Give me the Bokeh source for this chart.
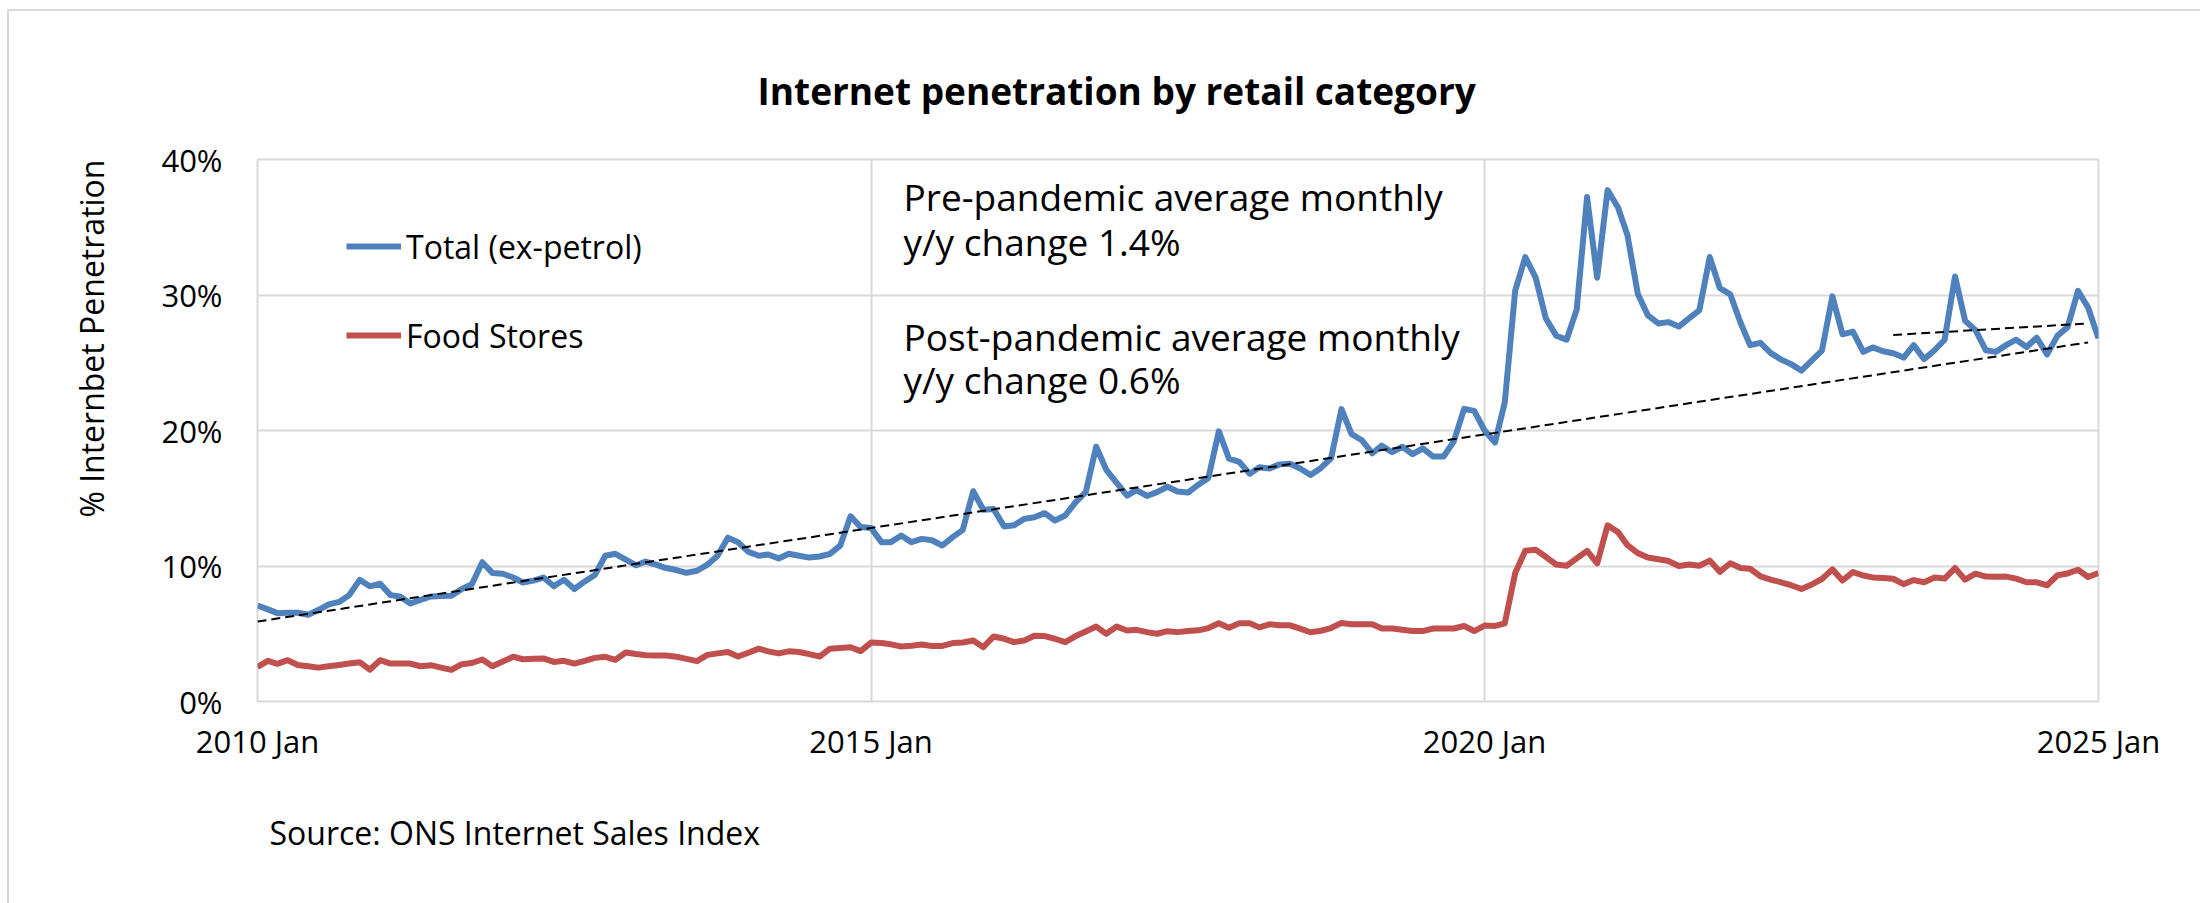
import pandas as pd
from bokeh.plotting import figure
from bokeh.models import (Range1d, FixedTicker, DatetimeTickFormatter, PrintfTickFormatter,
                          Label, Legend, LegendItem, Title)
from bokeh.embed import file_html
from bokeh.resources import INLINE

# Monthly series, 2010 Jan .. 2025 Jan (percent of retail sales made online)
months = pd.date_range("2010-01-01", "2025-01-01", freq="MS")

total_ex_petrol = [
    7.08, 6.80, 6.52, 6.55, 6.55, 6.40, 6.75, 7.17, 7.35, 7.85, 8.98, 8.50,
    8.69, 7.85, 7.75, 7.23, 7.50, 7.75, 7.78, 7.80, 8.30, 8.65, 10.28, 9.49,
    9.43, 9.15, 8.78, 8.92, 9.15, 8.50, 8.98, 8.30, 8.86, 9.34, 10.76, 10.90,
    10.47, 10.05, 10.33, 10.10, 9.85, 9.70, 9.50, 9.65, 10.10, 10.76, 12.09, 11.75,
    11.04, 10.76, 10.85, 10.56, 10.90, 10.76, 10.62, 10.70, 10.90, 11.50, 13.67, 12.87,
    12.80, 11.76, 11.76, 12.25, 11.76, 12.00, 11.90, 11.51, 12.13, 12.67, 15.52, 14.15,
    14.20, 12.92, 13.00, 13.48, 13.60, 13.90, 13.36, 13.73, 14.71, 15.45, 18.80, 17.10,
    16.13, 15.20, 15.60, 15.17, 15.45, 15.85, 15.50, 15.42, 16.00, 16.50, 19.94, 17.93,
    17.68, 16.80, 17.28, 17.20, 17.50, 17.55, 17.20, 16.72, 17.24, 17.95, 21.58, 19.73,
    19.28, 18.32, 18.88, 18.40, 18.80, 18.25, 18.68, 18.08, 18.08, 19.18, 21.60, 21.45,
    20.00, 19.12, 22.06, 30.32, 32.80, 31.28, 28.29, 27.00, 26.70, 28.92, 37.23, 31.28,
    37.74, 36.46, 34.43, 30.07, 28.49, 27.90, 28.00, 27.67, 28.29, 28.86, 32.80, 30.52,
    30.05, 27.93, 26.30, 26.47, 25.73, 25.24, 24.90, 24.42, 25.17, 25.90, 29.90, 27.10,
    27.30, 25.80, 26.13, 25.85, 25.70, 25.38, 26.30, 25.27, 25.92, 26.70, 31.37, 28.10,
    27.40, 25.92, 25.80, 26.30, 26.70, 26.16, 26.85, 25.62, 27.00, 27.63, 30.30, 29.08,
    26.80,
]

food_stores = [
    2.55, 3.00, 2.78, 3.05, 2.70, 2.60, 2.50, 2.60, 2.70, 2.80, 2.90, 2.35,
    3.05, 2.80, 2.80, 2.80, 2.60, 2.68, 2.50, 2.33, 2.75, 2.84, 3.10, 2.60,
    2.95, 3.30, 3.12, 3.15, 3.18, 2.92, 3.00, 2.80, 3.00, 3.22, 3.30, 3.08,
    3.62, 3.50, 3.42, 3.40, 3.40, 3.30, 3.15, 2.98, 3.44, 3.55, 3.65, 3.32,
    3.60, 3.90, 3.70, 3.55, 3.70, 3.65, 3.50, 3.32, 3.90, 3.95, 4.00, 3.72,
    4.35, 4.31, 4.22, 4.06, 4.11, 4.20, 4.10, 4.10, 4.31, 4.35, 4.50, 4.01,
    4.80, 4.63, 4.38, 4.50, 4.85, 4.83, 4.63, 4.38, 4.83, 5.17, 5.53, 5.00,
    5.53, 5.24, 5.29, 5.12, 5.00, 5.19, 5.12, 5.20, 5.25, 5.42, 5.78, 5.45,
    5.78, 5.78, 5.47, 5.70, 5.62, 5.62, 5.38, 5.11, 5.22, 5.42, 5.80, 5.70,
    5.70, 5.70, 5.39, 5.39, 5.30, 5.20, 5.20, 5.39, 5.39, 5.39, 5.57, 5.20,
    5.60, 5.58, 5.77, 9.48, 11.12, 11.20, 10.68, 10.11, 10.02, 10.56, 11.12, 10.19,
    13.00, 12.50, 11.54, 10.95, 10.63, 10.50, 10.37, 10.00, 10.11, 10.02, 10.40, 9.57,
    10.20, 9.85, 9.80, 9.24, 9.00, 8.80, 8.58, 8.30, 8.64, 9.04, 9.75, 8.93,
    9.55, 9.30, 9.16, 9.12, 9.06, 8.66, 8.96, 8.80, 9.15, 9.07, 9.85, 8.99,
    9.43, 9.22, 9.20, 9.22, 9.07, 8.80, 8.80, 8.58, 9.32, 9.45, 9.72, 9.19,
    9.48,
]

# Linear trend lines (end points)
trend_pre_dates = pd.to_datetime(["2010-01-01", "2024-12-01"])
trend_pre_values = [5.90, 26.50]
trend_post_dates = pd.to_datetime(["2023-05-01", "2024-12-01"])
trend_post_values = [27.05, 27.90]

x_tick_dates = pd.to_datetime(["2010-01-01", "2015-01-01", "2020-01-01", "2025-01-01"])
y_ticks = [0, 10, 20, 30, 40]

BLUE = "#4F81BD"
RED = "#C0504D"
GRID = "#D9D9D9"
TEXT = "#000000"
FONT = "Open Sans"

PAGE_W, PAGE_H = 2200, 903
OX, OY = 9, 11                          # canvas offset inside the page (room for the chart-area border)
FL, FR, FT, FB = 257, 2098, 159, 701    # plot frame edges, page pixels
W, H = PAGE_W - OX, PAGE_H - OY

x0 = months[0].value / 1e6
x1 = months[-1].value / 1e6
y0, y1 = 0, 40


def px_x(px):
    return x0 + (px - FL) / (FR - FL) * (x1 - x0)


def px_y(py):
    return y0 + (FB - py) / (FB - FT) * (y1 - y0)


p = figure(width=W, height=H, x_axis_type="datetime",
           x_range=Range1d(x0, x1), y_range=Range1d(y0, y1),
           output_backend="svg", toolbar_location=None,
           min_border_left=FL - OX, min_border_right=PAGE_W - FR,
           min_border_top=FT - OY, min_border_bottom=PAGE_H - FB)
p.styles = {"outline": f"2px solid {GRID}", "margin-left": f"{OX}px", "margin-top": f"{OY}px"}
p.background_fill_color = "white"
p.border_fill_color = "white"
p.outline_line_color = GRID
p.outline_line_width = 2

# chart title
p.title.text = "Internet penetration by retail category"
p.title.align = "left"
p.title.offset = 757 - FL
p.title.standoff = 88
p.title.text_font = FONT
p.title.text_font_size = "37px"
p.title.text_font_style = "bold"
p.title.text_color = TEXT

# axes
p.xaxis.ticker = FixedTicker(ticks=[d.value / 1e6 for d in x_tick_dates])
p.xaxis.formatter = DatetimeTickFormatter(years="%Y %b", months="%Y %b", days="%Y %b")
p.yaxis.ticker = FixedTicker(ticks=y_ticks)
p.yaxis.formatter = PrintfTickFormatter(format="%d%%")
for ax in (p.xaxis[0], p.yaxis[0]):
    ax.axis_line_color = None
    ax.major_tick_line_color = None
    ax.minor_tick_line_color = None
    ax.major_tick_out = 0
    ax.major_tick_in = 0
    ax.minor_tick_out = 0
    ax.minor_tick_in = 0
    ax.major_label_text_font = FONT
    ax.major_label_text_font_size = "31px"
    ax.major_label_text_color = TEXT
p.xaxis.major_label_standoff = 18
p.yaxis.major_label_standoff = 35

p.xgrid.ticker = FixedTicker(ticks=[d.value / 1e6 for d in x_tick_dates])
p.ygrid.ticker = FixedTicker(ticks=y_ticks)
p.xgrid.grid_line_color = GRID
p.ygrid.grid_line_color = GRID
p.xgrid.grid_line_width = 2
p.ygrid.grid_line_width = 2

# y axis title, aligned with the top of the frame
p.add_layout(Title(text="% Internbet Penetration", align="right", offset=0,
                   vertical_align="bottom", standoff=92, text_font=FONT,
                   text_font_size="32px", text_font_style="normal", text_color=TEXT), "left")
# source note under the axis
p.add_layout(Title(text="Source: ONS Internet Sales Index", align="left", offset=269 - FL,
                   vertical_align="top", standoff=93, text_font=FONT,
                   text_font_size="32px", text_font_style="normal", text_color=TEXT), "below")

# data
r_total = p.line(months, total_ex_petrol, line_color=BLUE, line_width=6, line_join="round")
r_food = p.line(months, food_stores, line_color=RED, line_width=6, line_join="round")
p.line(trend_pre_dates, trend_pre_values, line_color="black", line_width=2, line_dash="9 5")
p.line(trend_post_dates, trend_post_values, line_color="black", line_width=2, line_dash="9 5")

legend = Legend(items=[LegendItem(label="Total (ex-petrol)", renderers=[r_total]),
                       LegendItem(label="Food Stores", renderers=[r_food])],
                location=(346 - FL, FB - 357), orientation="vertical",
                glyph_width=55, glyph_height=44, label_height=44, spacing=45,
                label_standoff=5, padding=0, margin=0,
                label_text_font=FONT, label_text_font_size="32px", label_text_color=TEXT,
                border_line_color=None, background_fill_alpha=0)
p.add_layout(legend)


def add_text(text, px, py, size):
    p.add_layout(Label(x=px_x(px), y=px_y(py), text=text, text_font=FONT,
                       text_font_size=size, text_color=TEXT, text_align="left",
                       text_baseline="alphabetic"))


add_text("Pre-pandemic average monthly", 903, 196, "37px")
add_text("y/y change 1.4%", 903, 241, "37px")
add_text("Post-pandemic average monthly", 903, 336, "37px")
add_text("y/y change 0.6%", 903, 379, "37px")

open("out.html", "w").write(file_html(p, INLINE))
